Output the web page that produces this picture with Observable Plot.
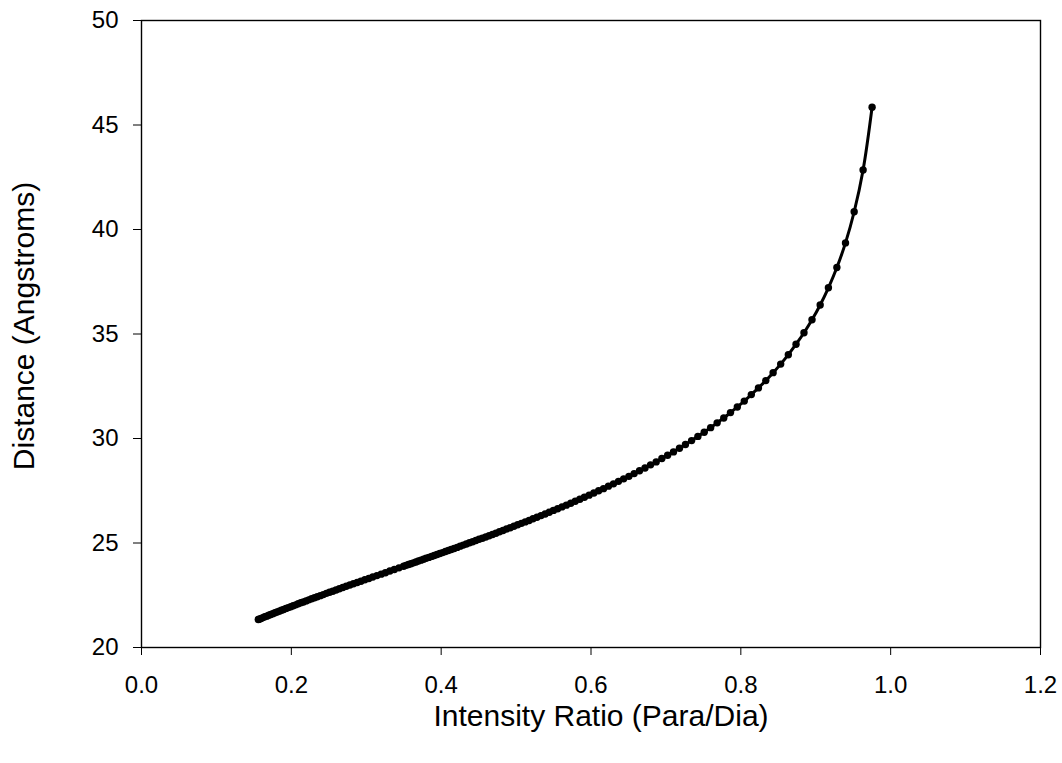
<!DOCTYPE html>
<html>
<head>
<meta charset="utf-8">
<script src="https://cdn.jsdelivr.net/npm/d3@7"></script>
<script src="https://cdn.jsdelivr.net/npm/@observablehq/plot@0.6"></script>
<style>
  html, body { margin: 0; padding: 0; background: #ffffff; }
  svg { display: block; }
</style>
</head>
<body>
<script>
const xTitle = "Intensity Ratio (Para/Dia)";
const yTitle = "Distance (Angstroms)";
const xTicks = [0, 0.2, 0.4, 0.6, 0.8, 1.0, 1.2];
const yTicks = [20, 25, 30, 35, 40, 45, 50];

// Intensity ratio (x) of each point
const ratio = [
  0.9752, 0.9632, 0.9513, 0.9397, 0.9282, 0.9169, 0.9059, 0.8950, 0.8843, 0.8737,
  0.8634, 0.8532, 0.8431, 0.8333, 0.8235, 0.8140, 0.8046, 0.7953, 0.7862, 0.7772,
  0.7684, 0.7597, 0.7511, 0.7427, 0.7343, 0.7261, 0.7181, 0.7101, 0.7023, 0.6946,
  0.6870, 0.6795, 0.6721, 0.6648, 0.6576, 0.6506, 0.6436, 0.6367, 0.6300, 0.6233,
  0.6167, 0.6102, 0.6038, 0.5975, 0.5912, 0.5851, 0.5790, 0.5730, 0.5671, 0.5613,
  0.5555, 0.5499, 0.5443, 0.5388, 0.5333, 0.5279, 0.5226, 0.5174, 0.5122, 0.5071,
  0.5021, 0.4971, 0.4922, 0.4873, 0.4825, 0.4778, 0.4731, 0.4685, 0.4640, 0.4595,
  0.4550, 0.4506, 0.4463, 0.4420, 0.4378, 0.4336, 0.4295, 0.4254, 0.4214, 0.4174,
  0.4134, 0.4096, 0.4057, 0.4019, 0.3982, 0.3945, 0.3908, 0.3872, 0.3836, 0.3800,
  0.3765, 0.3731, 0.3697, 0.3663, 0.3629, 0.3596, 0.3564, 0.3531, 0.3499,
  0.3437, 0.3375, 0.3315, 0.3256, 0.3199, 0.3142, 0.3087, 0.3034, 0.2981, 0.2929,
  0.2879, 0.2829, 0.2781, 0.2733, 0.2687, 0.2641, 0.2597, 0.2553, 0.2510, 0.2468,
  0.2427, 0.2387, 0.2347, 0.2309, 0.2271, 0.2233, 0.2197, 0.2161, 0.2126, 0.2092,
  0.2058, 0.2025, 0.1992, 0.1960, 0.1929, 0.1898, 0.1868, 0.1839, 0.1810, 0.1781,
  0.1753, 0.1726, 0.1699, 0.1672, 0.1646, 0.1621, 0.1596, 0.1571, 0.1559
];

// Distance in Angstroms (y) of each point
const distance = [
  45.85, 42.85, 40.85, 39.36, 38.18, 37.21, 36.39, 35.68, 35.06, 34.51,
  34.01, 33.56, 33.15, 32.77, 32.42, 32.10, 31.79, 31.51, 31.24, 30.98,
  30.75, 30.52, 30.30, 30.10, 29.90, 29.71, 29.53, 29.36, 29.20, 29.04,
  28.88, 28.74, 28.59, 28.46, 28.32, 28.19, 28.07, 27.95, 27.83, 27.72,
  27.60, 27.50, 27.39, 27.29, 27.19, 27.09, 27.00, 26.90, 26.81, 26.73,
  26.64, 26.56, 26.47, 26.39, 26.31, 26.23, 26.16, 26.08, 26.01, 25.94,
  25.87, 25.80, 25.73, 25.67, 25.60, 25.54, 25.47, 25.41, 25.35, 25.29,
  25.23, 25.18, 25.12, 25.06, 25.01, 24.95, 24.90, 24.85, 24.79, 24.74,
  24.69, 24.64, 24.59, 24.54, 24.50, 24.45, 24.40, 24.36, 24.31, 24.27,
  24.22, 24.18, 24.14, 24.09, 24.05, 24.01, 23.97, 23.93, 23.89,
  23.81, 23.73, 23.66, 23.58, 23.51, 23.44, 23.37, 23.30, 23.24, 23.17,
  23.11, 23.05, 22.99, 22.93, 22.87, 22.81, 22.75, 22.69, 22.64, 22.59,
  22.53, 22.48, 22.43, 22.38, 22.33, 22.28, 22.23, 22.18, 22.14, 22.09,
  22.04, 22.00, 21.95, 21.91, 21.87, 21.82, 21.78, 21.74, 21.70, 21.66,
  21.62, 21.58, 21.54, 21.50, 21.47, 21.43, 21.39, 21.35, 21.34
];

const points = ratio.map((x, i) => ({x, y: distance[i]}));

const font = "'Liberation Sans', Arial, Helvetica, sans-serif";

const chart = Plot.plot({
  width: 1062,
  height: 763,
  marginLeft: 141,
  marginRight: 22,
  marginTop: 20,
  marginBottom: 116,
  style: {fontFamily: font, fontSize: "24px", color: "#000", background: "#fff", overflow: "visible"},
  x: {domain: [0, 1.2], ticks: xTicks, tickFormat: d => d.toFixed(1), tickSize: 8, tickPadding: 20, label: null},
  y: {domain: [20, 50], ticks: yTicks, tickFormat: d => String(d), tickSize: 8, tickPadding: 15, label: null},
  marks: [
    Plot.frame({stroke: "#000", strokeWidth: 1.4}),
    Plot.line(points, {x: "x", y: "y", stroke: "#000", strokeWidth: 3, curve: "catmull-rom"}),
    Plot.dot(points, {x: "x", y: "y", r: 3.7, fill: "#000", stroke: "none"}),
    Plot.text([xTitle], {frameAnchor: "bottom", dy: 69, dx: 10, textAnchor: "middle", lineAnchor: "middle", fontSize: 30, fill: "#000"}),
    Plot.text([yTitle], {frameAnchor: "left", dx: -117, dy: -8, textAnchor: "middle", lineAnchor: "middle", rotate: -90, fontSize: 30, fill: "#000"})
  ]
});
document.body.appendChild(chart);
</script>
</body>
</html>
